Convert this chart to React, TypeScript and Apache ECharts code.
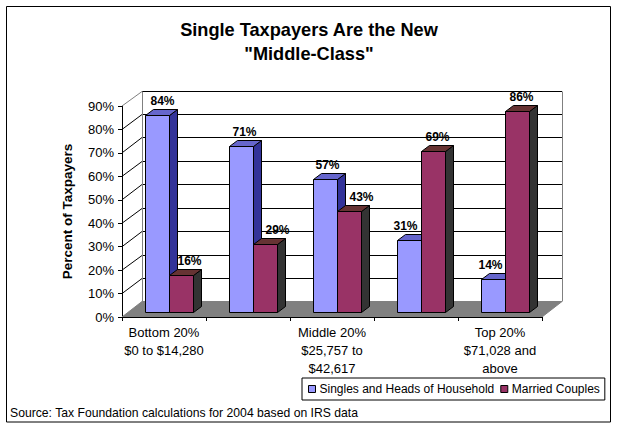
import React, { useEffect, useRef } from "react";
import * as echarts from "echarts";

const categories = [
  "Bottom 20%\n$0 to $14,280",
  "",
  "Middle 20%\n$25,757 to\n$42,617",
  "",
  "Top 20%\n$71,028 and\nabove",
];
const singles = [84, 71, 57, 31, 14];
const married = [16, 29, 43, 69, 86];
const ticks = [0, 10, 20, 30, 40, 50, 60, 70, 80, 90];
const singlesLabelShift = [5, 3, 2, -4, -3];
const marriedLabelShift = [8, 12, 12, 4, 4];

const FONT = '"Liberation Sans", Arial, sans-serif';
const WALL_DX = 20;
const WALL_DY = 15.5;
const BAR_W = 24;
const BAR_DX = 8;
const BAR_DY = 6;
const BAR_BASE_DX = 5.4;
const BAR_BASE_DY = 4.7;
const crisp = (n: number) => Math.round(n) + 0.5;

function wallItem(params: any, api: any) {
  const g = params.coordSys;
  const v = api.value(1);
  const y = api.coord([0, v])[1];
  const left = g.x;
  const right = g.x + g.width;
  const backY = crisp(y - WALL_DY);
  const children: any[] = [];
  if (v === 0) {
    children.push({
      type: "polygon",
      shape: {
        points: [
          [left, y],
          [right, y],
          [right + WALL_DX, y - WALL_DY],
          [left + WALL_DX, y - WALL_DY],
        ],
      },
      style: { fill: "#808080", stroke: "#808080", lineWidth: 1 },
    });
  } else {
    children.push({
      type: "line",
      shape: { x1: left + WALL_DX, y1: backY, x2: right + WALL_DX, y2: backY },
      style: { stroke: "#000", lineWidth: 1 },
    });
    children.push({
      type: "line",
      shape: { x1: left, y1: y, x2: left + WALL_DX, y2: backY },
      style: { stroke: v === 90 ? "#808080" : "#000", lineWidth: 1 },
    });
  }
  if (v === 90) {
    const bottom = api.coord([0, 0])[1];
    children.push({
      type: "line",
      shape: { x1: crisp(left + WALL_DX), y1: backY, x2: crisp(left + WALL_DX), y2: bottom - WALL_DY },
      style: { stroke: "#808080", lineWidth: 1 },
    });
    children.push({
      type: "line",
      shape: { x1: crisp(right + WALL_DX), y1: backY, x2: crisp(right + WALL_DX), y2: bottom - WALL_DY },
      style: { stroke: "#808080", lineWidth: 1 },
    });
  }
  return { type: "group", children };
}

function barItem(side: number, front: string, top: string, dark: string, shifts: number[]) {
  return (params: any, api: any) => {
    const i = api.value(0);
    const v = api.value(1);
    const p = api.coord([i, v]);
    const b = api.coord([i, 0]);
    const x0 = crisp(p[0] + BAR_BASE_DX + (side < 0 ? -BAR_W : 0));
    const x1 = x0 + BAR_W;
    const yT = crisp(p[1] - BAR_BASE_DY);
    const yB = crisp(b[1] - BAR_BASE_DY);
    const edge = { stroke: "#000", lineWidth: 1 };
    return {
      type: "group",
      children: [
        {
          type: "polygon",
          shape: { points: [[x1, yT], [x1 + BAR_DX, yT - BAR_DY], [x1 + BAR_DX, yB - BAR_DY], [x1, yB]] },
          style: { fill: dark, ...edge },
        },
        {
          type: "polygon",
          shape: { points: [[x0, yT], [x0 + BAR_DX, yT - BAR_DY], [x1 + BAR_DX, yT - BAR_DY], [x1, yT]] },
          style: { fill: top, ...edge },
        },
        { type: "rect", shape: { x: x0, y: yT, width: BAR_W, height: yB - yT }, style: { fill: front, ...edge } },
        {
          type: "text",
          style: {
            text: v + "%",
            x: x0 + BAR_W / 2 + shifts[i],
            y: yT - 15,
            align: "center",
            verticalAlign: "middle",
            font: `bold 12px ${FONT}`,
            fill: "#000",
          },
        },
      ],
    };
  };
}

export default function App() {
  const ref = useRef<HTMLDivElement>(null);
  useEffect(() => {
    const chart = echarts.init(ref.current!, undefined, { renderer: "svg" });
    chart.setOption({
      animation: false,
      backgroundColor: "#fff",
      textStyle: { fontFamily: FONT },
      title: {
        text: 'Single Taxpayers Are the New\n"Middle-Class"',
        left: 304,
        top: 13,
        textAlign: "center",
        textStyle: { fontFamily: FONT, fontWeight: "bold", fontSize: 18.2, lineHeight: 24, color: "#000" },
      },
      grid: { left: 122, top: 106, width: 420, height: 211, containLabel: false },
      xAxis: {
        type: "category",
        data: categories,
        z: 5,
        axisLine: { lineStyle: { color: "#000", width: 1 } },
        axisTick: { show: true, interval: 0, length: 4, lineStyle: { color: "#000" } },
        axisLabel: { interval: 0, color: "#000", fontSize: 13, fontFamily: FONT, lineHeight: 18, margin: 6 },
      },
      yAxis: {
        type: "value",
        min: 0,
        max: 90,
        interval: 10,
        name: "Percent of Taxpayers",
        nameLocation: "middle",
        nameGap: 48,
        nameRotate: 90,
        nameTextStyle: { color: "#000", fontFamily: FONT, fontWeight: "bold", fontSize: 13.5 },
        splitLine: { show: false },
        axisLine: { show: true, lineStyle: { color: "#000", width: 1 } },
        axisTick: { show: true, length: 4, lineStyle: { color: "#000" } },
        axisLabel: { formatter: "{value}%", color: "#000", fontSize: 13, fontFamily: FONT, margin: 8 },
      },
      legend: {
        data: ["Singles and Heads of Household", "Married Couples"],
        left: 302,
        top: 378,
        width: 302,
        height: 24,
        padding: [5, 5, 5, 6],
        itemGap: 6,
        itemWidth: 7,
        itemHeight: 7,
        icon: "rect",
        borderColor: "#000",
        borderWidth: 1,
        backgroundColor: "#fff",
        itemStyle: { borderColor: "#000", borderWidth: 1 },
        textStyle: { color: "#000", fontSize: 12, fontFamily: FONT, padding: [0, 0, 0, -1] },
      },
      graphic: [
        {
          type: "rect",
          z: -1,
          shape: { x: 6.5, y: 6.5, width: 604, height: 415.5 },
          style: { fill: "#fff", stroke: "#000", lineWidth: 1 },
        },
        {
          type: "text",
          x: 10,
          y: 413,
          style: {
            text: "Source: Tax Foundation calculations for 2004 based on IRS data",
            font: `12.2px ${FONT}`,
            fill: "#000",
            verticalAlign: "middle",
          },
        },
      ],
      series: [
        {
          type: "custom",
          name: "walls",
          z: 1,
          renderItem: wallItem,
          data: ticks.map((t) => [0, t]),
          encode: { x: 0, y: 1 },
          silent: true,
        },
        {
          type: "custom",
          name: "Singles and Heads of Household",
          z: 2,
          itemStyle: { color: "#9999FF" },
          renderItem: barItem(-1, "#9999FF", "#6666CC", "#333399", singlesLabelShift),
          data: singles.map((v, i) => [i, v]),
          encode: { x: 0, y: 1 },
        },
        {
          type: "custom",
          name: "Married Couples",
          z: 3,
          itemStyle: { color: "#993366" },
          renderItem: barItem(1, "#993366", "#663333", "#333333", marriedLabelShift),
          data: married.map((v, i) => [i, v]),
          encode: { x: 0, y: 1 },
        },
      ],
    });
    return () => chart.dispose();
  }, []);
  return <div ref={ref} style={{ position: "fixed", left: 0, top: 0, width: 617, height: 429 }} />;
}
